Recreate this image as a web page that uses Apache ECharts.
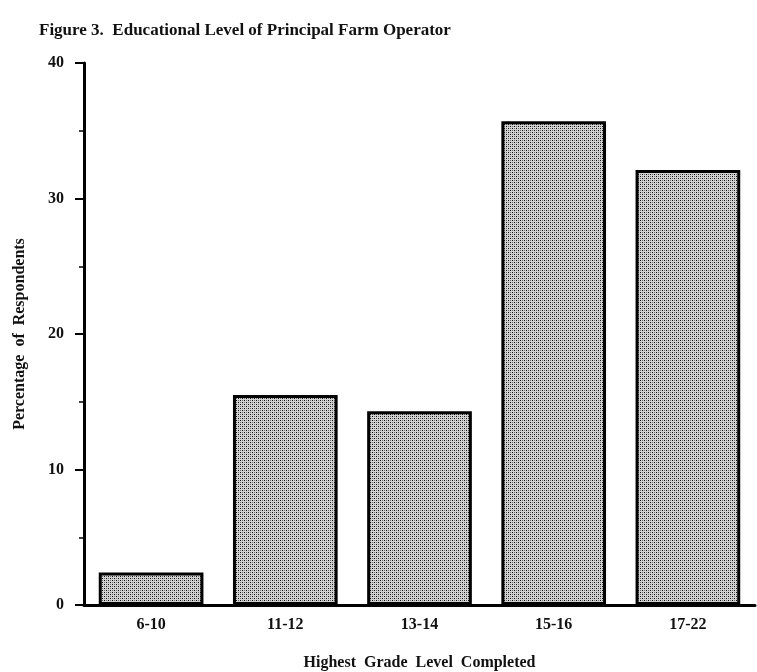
<!DOCTYPE html>
<html>
<head>
<meta charset="utf-8">
<script src="https://cdn.jsdelivr.net/npm/echarts@6/dist/echarts.min.js"></script>
<style>
html,body{margin:0;padding:0;background:#fff;}
#chart{width:757px;height:672px;}
</style>
</head>
<body>
<div id="chart"></div>
<script>
const categories = ['6-10', '11-12', '13-14', '15-16', '17-22'];
const percentages = [2.4, 15.5, 14.3, 35.7, 32.1];
const yTicks = [0, 10, 20, 30, 40];

function makePattern() {
  const c = document.createElement('canvas');
  c.width = 4; c.height = 4;
  const g = c.getContext('2d');
  g.fillStyle = '#d2d2d2';
  g.fillRect(0, 0, 4, 4);
  g.fillStyle = '#111';
  g.fillRect(0, 0, 1, 1);
  g.fillRect(2, 2, 1, 1);
  g.fillStyle = '#6e6e6e';
  g.fillRect(2, 0, 1, 1);
  g.fillRect(0, 2, 1, 1);
  return c;
}

const serif = '"Liberation Serif", "DejaVu Serif", serif';
const chart = echarts.init(document.getElementById('chart'));
chart.setOption({
  backgroundColor: '#fff',
  animation: false,
  title: {
    text: 'Figure 3.  Educational Level of Principal Farm Operator',
    left: 34, top: 17,
    textStyle: { fontFamily: serif, fontWeight: 'bold', fontSize: 17, color: '#111' }
  },
  grid: { left: 84, right: 2, top: 63, bottom: 67, outerBoundsMode: 'none', containLabel: false },
  xAxis: {
    type: 'category',
    data: categories,
    name: 'Highest  Grade  Level  Completed',
    nameLocation: 'middle',
    nameGap: 50,
    nameTextStyle: { fontFamily: serif, fontWeight: 'bold', fontSize: 16, color: '#111' },
    axisLine: { lineStyle: { color: '#000', width: 3 } },
    axisTick: { show: false },
    axisLabel: { margin: 12, fontFamily: serif, fontWeight: 'bold', fontSize: 16, color: '#111' }
  },
  yAxis: {
    type: 'value',
    min: yTicks[0], max: yTicks[yTicks.length - 1], interval: 10,
    name: 'Percentage  of  Respondents',
    nameLocation: 'middle',
    nameGap: 56,
    nameTextStyle: { fontFamily: serif, fontWeight: 'bold', fontSize: 16, color: '#111' },
    axisLine: { show: true, lineStyle: { color: '#000', width: 3 } },
    axisTick: { show: true, length: 9, lineStyle: { color: '#000', width: 2 } },
    minorTick: { show: true, splitNumber: 2, length: 5, lineStyle: { color: '#000', width: 1.5 } },
    splitLine: { show: false },
    axisLabel: { margin: 20, fontFamily: serif, fontWeight: 'bold', fontSize: 16, color: '#111' }
  },
  series: [{
    type: 'bar',
    data: percentages,
    barCategoryGap: '22%',
    itemStyle: {
      color: { image: makePattern(), repeat: 'repeat' },
      borderColor: '#000',
      borderWidth: 3
    }
  }]
});
</script>
</body>
</html>
